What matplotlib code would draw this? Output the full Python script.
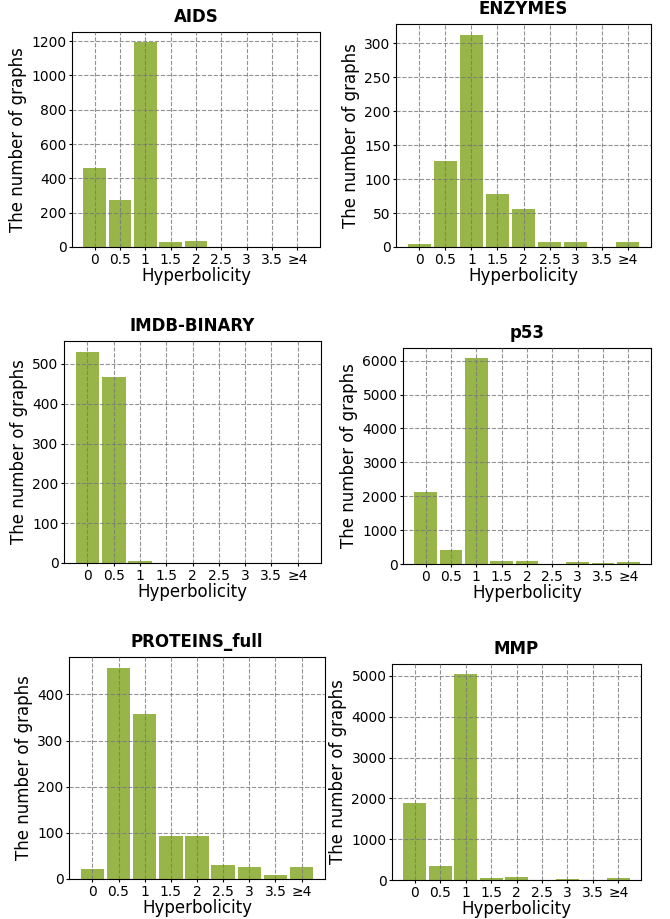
import numpy as np
import matplotlib
matplotlib.use('Agg')
import matplotlib.pyplot as plt

# hyperbolicity bins
bins = ['0', '0.5', '1', '1.5', '2', '2.5', '3', '3.5', '≥4']

aids = [460, 275, 1193, 31, 36, 0, 0, 0, 0]
enzymes = [4, 127, 313, 78, 56, 7, 8, 0, 7]
imdb_binary = [531, 466, 5, 1, 1, 1, 1, 1, 1]
p53 = [2120, 414, 6070, 80, 80, 10, 50, 20, 50]
proteins_full = [22, 458, 357, 93, 93, 30, 26, 9, 26]
mmp = [1890, 344, 5040, 49, 74, 5, 20, 5, 49]

datasets = ['AIDS', 'ENZYMES', 'IMDB-BINARY', 'p53', 'PROTEINS_full', 'MMP']
counts = [aids, enzymes, imdb_binary, p53, proteins_full, mmp]

# axes boxes in pixels: left, right, top, bottom
boxes = [(72, 320, 32, 247), (396, 651, 24, 247),
         (64, 321, 341, 563), (403, 651, 348, 564),
         (69, 325, 657, 879), (392, 641, 664, 880)]

W, H = 670, 919
fig = plt.figure(figsize=(W / 100, H / 100), dpi=100)

for name, vals, (l, r, t, b) in zip(datasets, counts, boxes):
    ax = fig.add_axes([l / W, 1 - b / H, (r - l) / W, (b - t) / H])
    x = np.arange(len(bins))
    ax.bar(x, vals, width=0.9, color='#98b54a')
    ax.set_xticks(x)
    ax.set_xticklabels(bins, fontsize=10)
    ax.tick_params(axis='both', labelsize=10, length=2, pad=2)
    ax.set_xlabel('Hyperbolicity', fontsize=12, labelpad=0)
    ax.set_ylabel('The number of graphs', fontsize=12, labelpad=3)
    ax.set_title(name, fontsize=12, fontweight='bold', pad=7)
    ax.grid(True, linestyle='--', color='#777777', linewidth=0.8, alpha=0.8)
    ax.set_axisbelow(False)

plt.savefig('out.png', dpi=100)
plt.close()
